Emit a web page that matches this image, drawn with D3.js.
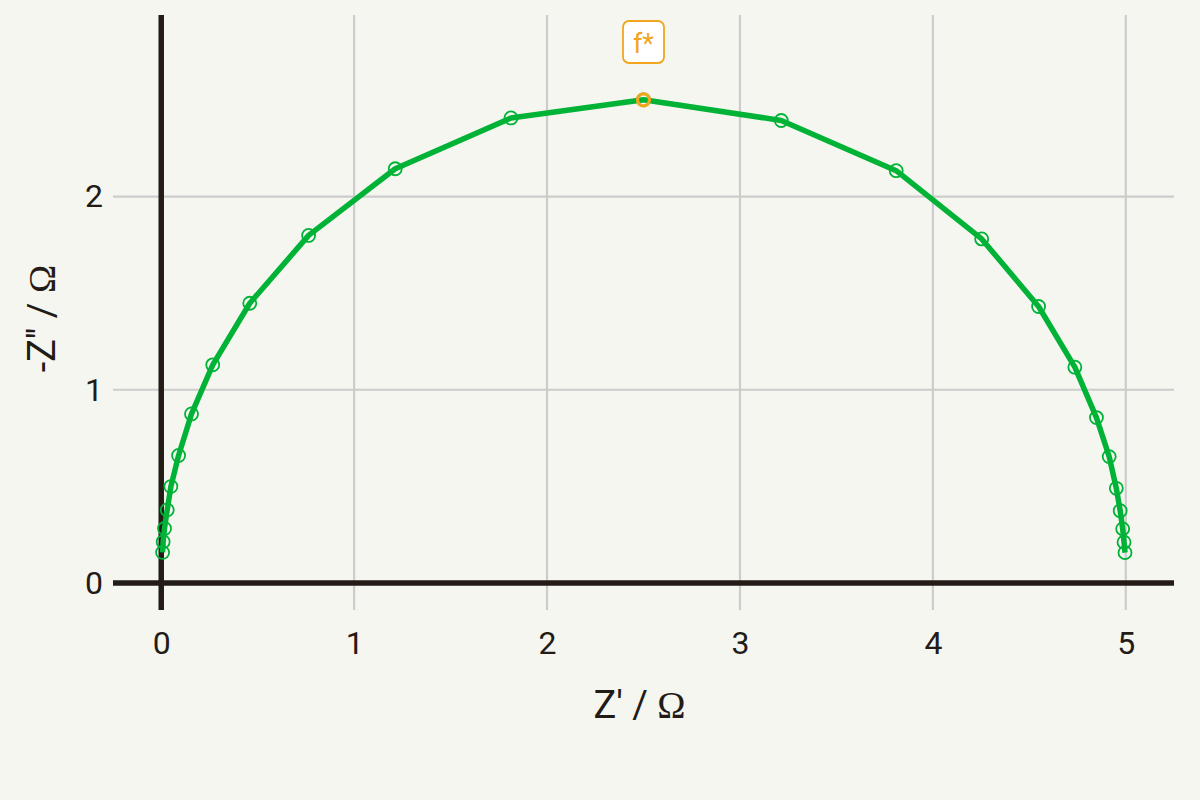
<!DOCTYPE html>
<html>
<head>
<meta charset="utf-8">
<script src="https://cdn.jsdelivr.net/npm/d3@7"></script>
<style>
  html, body { margin: 0; padding: 0; background: #f6f6f1; }
  svg { display: block; }
</style>
</head>
<body>
<script>
const zReal = [0.007, 0.010, 0.017, 0.031, 0.050, 0.090, 0.157, 0.267, 0.459, 0.764, 1.213, 1.813,
  2.500, 3.214, 3.810, 4.253, 4.548, 4.736, 4.848, 4.914, 4.951, 4.971, 4.984, 4.991, 4.996]
const zImag = [0.158, 0.213, 0.282, 0.378, 0.499, 0.660, 0.875, 1.129, 1.448, 1.799, 2.144, 2.407,
  2.501, 2.394, 2.134, 1.781, 1.431, 1.117, 0.856, 0.654, 0.490, 0.374, 0.280, 0.211, 0.157]
const peakIndex = 12
const peakLabel = 'f*'
const xTicks = [0, 1, 2, 3, 4, 5]
const yTicks = [0, 1, 2]

const points = zReal.map((x, i) => ({ x, y: zImag[i] }))

const colors = {
    bg: '#f6f6f1',
    ink: '#231b16',
    grid: '#cccccc',
    green: '#00b336',
    orange: '#f2a51e'
}

const width = 1200
const height = 800
const plot = { left: 113, right: 1174, top: 15, bottom: 610 }

const x = d3.scaleLinear().domain([-0.25, 5.25]).range([plot.left, plot.right])
const y = d3.scaleLinear().domain([-0.14, 2.94]).range([plot.bottom, plot.top])

const svg = d3.select('body').append('svg')
    .attr('width', width)
    .attr('height', height)
    .style('background-color', colors.bg)

// grid
svg.append('g')
    .selectAll('line')
    .data(xTicks)
    .join('line')
    .attr('x1', d => x(d)).attr('x2', d => x(d))
    .attr('y1', plot.top).attr('y2', plot.bottom)
    .attr('stroke', colors.grid)
    .attr('stroke-width', 2.2)

svg.append('g')
    .selectAll('line')
    .data(yTicks)
    .join('line')
    .attr('x1', plot.left).attr('x2', plot.right)
    .attr('y1', d => y(d)).attr('y2', d => y(d))
    .attr('stroke', colors.grid)
    .attr('stroke-width', 2.2)

// zero lines
svg.append('line')
    .attr('x1', plot.left).attr('x2', plot.right)
    .attr('y1', y(0)).attr('y2', y(0))
    .attr('stroke', colors.ink)
    .attr('stroke-width', 5.5)

svg.append('line')
    .attr('x1', x(0)).attr('x2', x(0))
    .attr('y1', plot.top).attr('y2', plot.bottom)
    .attr('stroke', colors.ink)
    .attr('stroke-width', 5.5)

// axes (text only)
const xAxis = svg.append('g')
    .attr('transform', `translate(0,${plot.bottom})`)
    .call(d3.axisBottom(x).tickValues(xTicks).tickFormat(d3.format('d')).tickSize(0).tickPadding(21))
const yAxis = svg.append('g')
    .attr('transform', `translate(${plot.left},0)`)
    .call(d3.axisLeft(y).tickValues(yTicks).tickFormat(d3.format('d')).tickSize(0).tickPadding(10))

;[xAxis, yAxis].forEach(a => {
    a.select('.domain').remove()
    a.selectAll('text')
        .style('font-family', 'Roboto, sans-serif')
        .style('font-size', '32px')
        .attr('fill', colors.ink)
})

// axis titles
const xTitle = svg.append('text')
    .attr('x', (plot.left + plot.right) / 2 - 4)
    .attr('y', 718)
    .attr('text-anchor', 'middle')
    .attr('fill', colors.ink)
    .style('font-family', 'Roboto, sans-serif')
    .style('font-size', '38px')
xTitle.append('tspan').text("Z' / ")
xTitle.append('tspan').style('font-family', '"Liberation Serif", serif').text('Ω')

const yTitle = svg.append('text')
    .attr('transform', `translate(55,${(plot.top + plot.bottom) / 2 + 6}) rotate(-90)`)
    .attr('text-anchor', 'middle')
    .attr('fill', colors.ink)
    .style('font-family', 'Roboto, sans-serif')
    .style('font-size', '38px')
yTitle.append('tspan').text("-Z'' / ")
yTitle.append('tspan').style('font-family', '"Liberation Serif", serif').text('Ω')

// curve
const line = d3.line().x(d => x(d.x)).y(d => y(d.y))
svg.append('path')
    .datum(points)
    .attr('d', line)
    .attr('fill', 'none')
    .attr('stroke', colors.green)
    .attr('stroke-width', 5.5)
    .attr('stroke-linejoin', 'round')

svg.append('g')
    .selectAll('circle')
    .data(points)
    .join('circle')
    .attr('cx', d => x(d.x))
    .attr('cy', d => y(d.y))
    .attr('r', 6.5)
    .attr('fill', 'none')
    .attr('stroke', colors.green)
    .attr('stroke-width', 1.8)

// characteristic frequency marker
const peak = points[peakIndex]
svg.append('circle')
    .attr('cx', x(peak.x))
    .attr('cy', y(peak.y))
    .attr('r', 6)
    .attr('fill', 'none')
    .attr('stroke', colors.orange)
    .attr('stroke-width', 3.2)

svg.append('rect')
    .attr('x', x(peak.x) - 20.5)
    .attr('y', 21)
    .attr('width', 41)
    .attr('height', 42)
    .attr('rx', 6)
    .attr('fill', '#ffffff')
    .attr('stroke', colors.orange)
    .attr('stroke-width', 1.8)

svg.append('text')
    .attr('x', x(peak.x))
    .attr('y', 53)
    .attr('text-anchor', 'middle')
    .attr('fill', colors.orange)
    .style('font-family', 'Roboto, sans-serif')
    .style('font-size', '27px')
    .text(peakLabel)
</script>
</body>
</html>
